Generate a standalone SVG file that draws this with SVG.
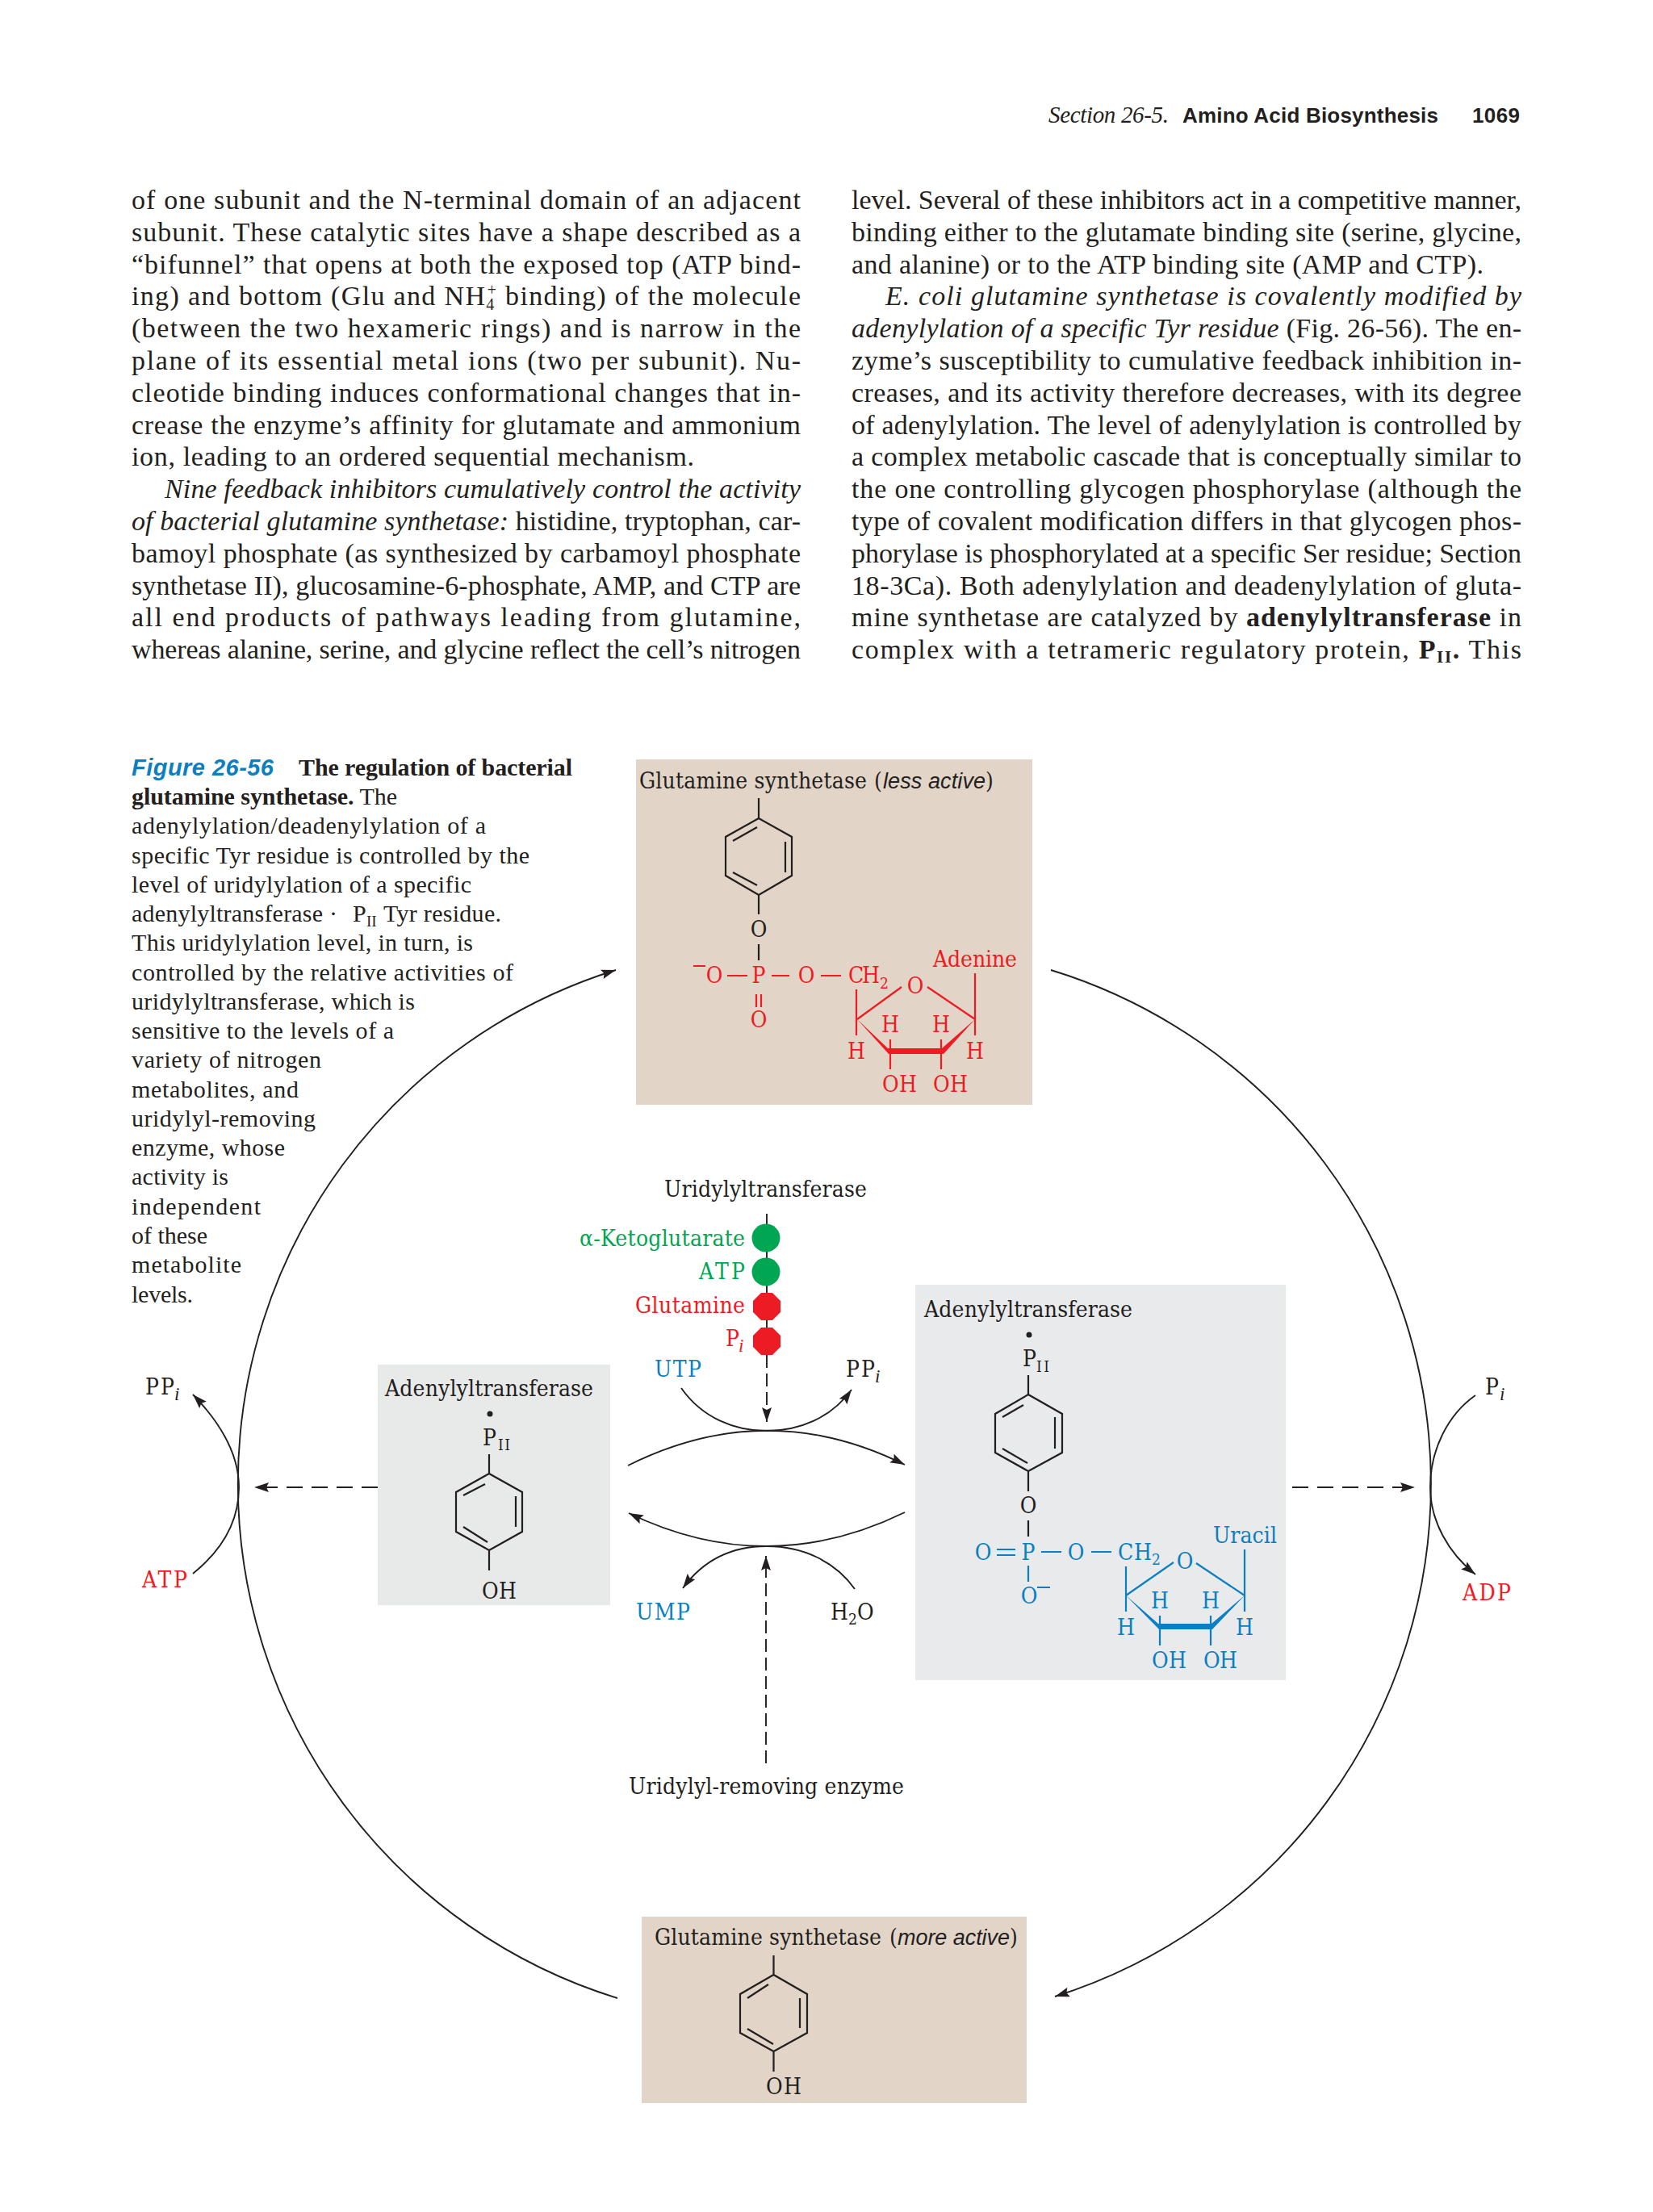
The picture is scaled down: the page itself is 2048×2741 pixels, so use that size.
<svg xmlns="http://www.w3.org/2000/svg" width="2048" height="2741" viewBox="0 0 2048 2741">
<style>
.b{font-family:"Liberation Serif",serif;font-size:34px;fill:#231f20}
.c{font-family:"Liberation Serif",serif;font-size:30px;fill:#231f20}
.d{font-family:"DejaVu Serif Condensed","DejaVu Serif",serif;font-stretch:condensed;font-size:28px;fill:#231f20}
.m{text-anchor:middle}
.e{text-anchor:end}
.it{font-family:"Liberation Sans",sans-serif;font-style:italic;font-size:27px;fill:#231f20}
.s2{font-size:19px}
.si{font-family:"Liberation Serif",serif;font-style:italic;font-size:23px;fill:#231f20}
.r{fill:#ed1c24}.u{fill:#0b7fc1}.g{fill:#00a651}
.bd{stroke:#231f20;stroke-width:2.2;fill:none}
.rl{stroke:#ed1c24;stroke-width:2.2;fill:none}
.ul{stroke:#0b7fc1;stroke-width:2.2;fill:none}
.con{stroke:#231f20;stroke-width:1.9;fill:none}
.ah{marker-end:url(#a)}
.dh{stroke-dasharray:20 11}
.dv{stroke-dasharray:16 7}
.hs{font-family:"Liberation Sans",sans-serif;font-size:26px;font-weight:bold;fill:#231f20}
</style>
<defs>
<marker id="a" markerUnits="userSpaceOnUse" markerWidth="20" markerHeight="14" refX="18" refY="6" orient="auto"><path d="M18,6 L0,0 L3,6 L0,12 Z" fill="#231f20"/></marker>
</defs>
<rect width="2048" height="2741" fill="#fff"/>

<g id="header">
<text x="1299" y="152" font-family="Liberation Serif, serif" font-style="italic" font-size="29" fill="#231f20" textLength="149">Section 26-5.</text>
<text x="1465" y="152" class="hs" textLength="317">Amino Acid Biosynthesis</text>
<text x="1824" y="152" class="hs" textLength="59">1069</text>
</g>

<g id="body-left">
<text x="163" y="259" class="b" textLength="829">of one subunit and the N-terminal domain of an adjacent</text>
<text x="163" y="299" class="b" textLength="829">subunit. These catalytic sites have a shape described as a</text>
<text x="163" y="339" class="b" textLength="829">“bifunnel” that opens at both the exposed top (ATP bind-</text>
<text x="163" y="378" class="b" textLength="829">ing) and bottom (Glu and NH<tspan dy="6" style="font-size:20px">4</tspan><tspan dx="-10" dy="-18" style="font-size:20px">+</tspan><tspan dy="12"> binding) of the molecule</tspan></text>
<text x="163" y="418" class="b" textLength="829">(between the two hexameric rings) and is narrow in the</text>
<text x="163" y="458" class="b" textLength="829">plane of its essential metal ions (two per subunit). Nu-</text>
<text x="163" y="498" class="b" textLength="829">cleotide binding induces conformational changes that in-</text>
<text x="163" y="538" class="b" textLength="829">crease the enzyme’s affinity for glutamate and ammonium</text>
<text x="163" y="577" class="b" textLength="697">ion, leading to an ordered sequential mechanism.</text>
<text x="204" y="617" class="b" font-style="italic" textLength="788">Nine feedback inhibitors cumulatively control the activity</text>
<text x="163" y="657" class="b" textLength="829"><tspan font-style="italic">of bacterial glutamine synthetase:</tspan> histidine, tryptophan, car-</text>
<text x="163" y="697" class="b" textLength="829">bamoyl phosphate (as synthesized by carbamoyl phosphate</text>
<text x="163" y="737" class="b" textLength="829">synthetase II), glucosamine-6-phosphate, AMP, and CTP are</text>
<text x="163" y="776" class="b" textLength="829">all end products of pathways leading from glutamine,</text>
<text x="163" y="816" class="b" textLength="829">whereas alanine, serine, and glycine reflect the cell’s nitrogen</text>
</g>

<g id="body-right">
<text x="1055" y="259" class="b" textLength="830">level. Several of these inhibitors act in a competitive manner,</text>
<text x="1055" y="299" class="b" textLength="830">binding either to the glutamate binding site (serine, glycine,</text>
<text x="1055" y="339" class="b" textLength="783">and alanine) or to the ATP binding site (AMP and CTP).</text>
<text x="1097" y="378" class="b" font-style="italic" textLength="788">E. coli glutamine synthetase is covalently modified by</text>
<text x="1055" y="418" class="b" textLength="830"><tspan font-style="italic">adenylylation of a specific Tyr residue</tspan> (Fig. 26-56). The en-</text>
<text x="1055" y="458" class="b" textLength="830">zyme’s susceptibility to cumulative feedback inhibition in-</text>
<text x="1055" y="498" class="b" textLength="830">creases, and its activity therefore decreases, with its degree</text>
<text x="1055" y="538" class="b" textLength="830">of adenylylation. The level of adenylylation is controlled by</text>
<text x="1055" y="577" class="b" textLength="830">a complex metabolic cascade that is conceptually similar to</text>
<text x="1055" y="617" class="b" textLength="830">the one controlling glycogen phosphorylase (although the</text>
<text x="1055" y="657" class="b" textLength="830">type of covalent modification differs in that glycogen phos-</text>
<text x="1055" y="697" class="b" textLength="830">phorylase is phosphorylated at a specific Ser residue; Section</text>
<text x="1055" y="737" class="b" textLength="830">18-3Ca). Both adenylylation and deadenylylation of gluta-</text>
<text x="1055" y="776" class="b" textLength="830">mine synthetase are catalyzed by <tspan font-weight="bold">adenylyltransferase</tspan> in</text>
<text x="1055" y="816" class="b" textLength="830">complex with a tetrameric regulatory protein, <tspan font-weight="bold">P<tspan dy="5" style="font-size:21px">II</tspan><tspan dy="-5">.</tspan></tspan> This</text>
</g>

<g id="caption">
<text x="163" y="961" style="font-family:'Liberation Sans',sans-serif;font-style:italic;font-weight:bold;font-size:29px;fill:#0b7fc1" textLength="176">Figure 26-56</text>
<text x="370" y="961" class="c" font-weight="bold" textLength="339">The regulation of bacterial</text>
<text x="163" y="997" class="c" textLength="329"><tspan font-weight="bold">glutamine synthetase.</tspan> The</text>
<text x="163" y="1033" class="c" textLength="439">adenylylation/deadenylylation of a</text>
<text x="163" y="1070" class="c" textLength="493">specific Tyr residue is controlled by the</text>
<text x="163" y="1106" class="c" textLength="421">level of uridylylation of a specific</text>
<text x="163" y="1142" class="c" textLength="255">adenylyltransferase ·</text>
<text x="437" y="1142" class="c">P</text>
<text x="454" y="1148" class="c" style="font-size:19px">II</text>
<text x="475" y="1142" class="c" textLength="146">Tyr residue.</text>
<text x="163" y="1178" class="c" textLength="423">This uridylylation level, in turn, is</text>
<text x="163" y="1215" class="c" textLength="473">controlled by the relative activities of</text>
<text x="163" y="1251" class="c" textLength="351">uridylyltransferase, which is</text>
<text x="163" y="1287" class="c" textLength="325">sensitive to the levels of a</text>
<text x="163" y="1323" class="c" textLength="235">variety of nitrogen</text>
<text x="163" y="1360" class="c" textLength="207">metabolites, and</text>
<text x="163" y="1396" class="c" textLength="228">uridylyl-removing</text>
<text x="163" y="1432" class="c" textLength="190">enzyme, whose</text>
<text x="163" y="1468" class="c" textLength="120">activity is</text>
<text x="163" y="1505" class="c" textLength="160">independent</text>
<text x="163" y="1541" class="c" textLength="94">of these</text>
<text x="163" y="1577" class="c" textLength="136">metabolite</text>
<text x="163" y="1614" class="c" textLength="76">levels.</text>
</g>

<g id="connectors">
<path class="con ah" d="M765,2476 A667,667 0 0 1 763,1202"/>
<path class="con ah" d="M1302,1202 A666,666 0 0 1 1307,2474"/>
<path class="con ah" d="M778,1816 Q950,1730 1121,1815"/>
<path class="con ah" d="M1121,1874 Q950,1957.5 779,1875"/>
<path class="con ah" d="M844,1720 C870,1757 910,1773 950,1773 C990,1773 1030,1757 1055,1722"/>
<path class="con ah" d="M1059,1969 C1035,1935 995,1916 950,1916 C905,1916 870,1935 846,1968"/>
<path class="con ah" d="M239,1950 C270,1925 296,1890 296,1843 C296,1800 270,1760 239,1728"/>
<path class="con ah" d="M1828,1729 C1795,1752 1772,1795 1772,1843 C1772,1885 1795,1925 1828,1951"/>
<path class="con ah dh" d="M468,1843 L315,1843"/>
<path class="con ah dh" d="M1601,1843 L1753,1843"/>
<path class="con" d="M950,1504 L950,1679"/>
<path class="con ah dv" d="M950,1679 L950,1762"/>
<path class="con ah dv" d="M949,2185 L949,1928"/>
</g>

<g id="labels-reactants">
<text x="811" y="1706" class="d u" textLength="58">UTP</text>
<text x="1048" y="1706" class="d" textLength="36">PP</text>
<text x="1084" y="1713" class="si">i</text>
<text x="180" y="1728" class="d" textLength="36">PP</text>
<text x="216" y="1735" class="si">i</text>
<text x="176" y="1967" class="d r" textLength="56">ATP</text>
<text x="1840" y="1728" class="d" textLength="17">P</text>
<text x="1858" y="1735" class="si">i</text>
<text x="1812" y="1983" class="d r" textLength="60">ADP</text>
<text x="788" y="2007" class="d u" textLength="67">UMP</text>
<text x="1029" y="2007" class="d">H</text>
<text x="1051" y="2013" class="d s2">2</text>
<text x="1062" y="2007" class="d">O</text>
</g>

<g id="uridylyltransferase">
<text x="823" y="1483" class="d" textLength="251">Uridylyltransferase</text>
<text x="923" y="1544" class="d g e" textLength="205">α-Ketoglutarate</text>
<text x="923" y="1585" class="d g e" textLength="57">ATP</text>
<text x="923" y="1627" class="d r e" textLength="136">Glutamine</text>
<text x="899" y="1668" class="d r" textLength="16">P</text>
<text x="915" y="1675" class="si r">i</text>
<circle cx="949" cy="1534" r="17.5" class="g"/>
<circle cx="949" cy="1576" r="17.5" class="g"/>
<polygon class="r" points="943,1602 957,1602 967,1612 967,1626 957,1636 943,1636 933,1626 933,1612"/>
<polygon class="r" points="943,1645 957,1645 967,1655 967,1669 957,1679 943,1679 933,1669 933,1655"/>
</g>

<g id="uridylyl-removing-enzyme">
<text x="779" y="2223" class="d" textLength="341">Uridylyl-removing enzyme</text>
</g>

<g id="gs-less-active">
<rect x="788" y="941" width="491" height="428" fill="#e2d4c7"/>
<text x="792" y="977" class="d" textLength="282">Glutamine synthetase</text>
<text x="1083" y="977" class="d">(</text>
<text x="1094" y="977" class="it" textLength="127">less active</text>
<text x="1221" y="977" class="d">)</text>
<path class="bd" d="M940,989 V1014 L981,1037 V1085 L940,1109 L899,1085 V1037 L940,1014 M908,1042 L938,1025 M973,1043 V1081 M908,1081 L938,1097 M940,1109 V1133 M940,1170 V1190"/>
<text x="940" y="1161" class="d m">O</text>
<text x="885" y="1218" class="d r m">O</text>
<text x="940" y="1218" class="d r m">P</text>
<text x="999" y="1218" class="d r m">O</text>
<text x="1051" y="1218" class="d r" textLength="39">CH</text>
<text x="1090" y="1225" class="d r s2">2</text>
<text x="940" y="1273" class="d r m">O</text>
<text x="1134" y="1231" class="d r m">O</text>
<text x="1156" y="1198" class="d r" textLength="104">Adenine</text>
<text x="1061" y="1312" class="d r m">H</text>
<text x="1208" y="1312" class="d r m">H</text>
<text x="1103" y="1279" class="d r m">H</text>
<text x="1166" y="1279" class="d r m">H</text>
<text x="1093" y="1353" class="d r" textLength="43">OH</text>
<text x="1156" y="1353" class="d r" textLength="43">OH</text>
<path class="rl" d="M859,1197 H874 M901,1209 H926 M956,1209 H978 M1017,1209 H1042 M937,1232 V1248 M943,1232 V1248 M1061,1226 V1283 M1208,1206 V1283 M1062,1263 L1117,1223 M1149,1223 L1208,1263 M1103,1288 V1325 M1166,1288 V1325"/>
<polygon class="r" points="1062,1263 1100,1299 1167,1299 1208,1263 1169,1306 1101,1306"/>
</g>

<g id="at-pii-oh">
<rect x="468" y="1691" width="288" height="298" fill="#e8eaea"/>
<text x="477" y="1730" class="d" textLength="258">Adenylyltransferase</text>
<circle cx="607" cy="1752" r="3.5" fill="#231f20"/>
<text x="598" y="1791" class="d">P</text>
<text x="617" y="1797" class="d s2" textLength="15">II</text>
<path class="bd" d="M606,1802 V1826 L647,1849 V1898 L606,1921 L565,1898 V1849 L606,1826 M574,1853 L601,1839 M639,1854 V1892 M574,1892 L604,1911 M606,1921 V1946"/>
<text x="597" y="1981" class="d" textLength="43">OH</text>
</g>

<g id="at-pii-ump">
<rect x="1134" y="1592" width="459" height="490" fill="#e8eaec"/>
<text x="1145" y="1632" class="d" textLength="258">Adenylyltransferase</text>
<circle cx="1275" cy="1654" r="3.5" fill="#231f20"/>
<text x="1267" y="1693" class="d">P</text>
<text x="1284" y="1700" class="d s2" textLength="16">II</text>
<path class="bd" d="M1274,1704 V1728 L1316,1752 V1800 L1274,1823 L1233,1800 V1752 L1274,1728 M1242,1756 L1268,1741 M1307,1756 V1795 M1242,1795 L1273,1813 M1274,1823 V1848 M1274,1884 V1904"/>
<text x="1274" y="1875" class="d m">O</text>
<text x="1218" y="1933" class="d u m">O</text>
<text x="1274" y="1933" class="d u m">P</text>
<text x="1333" y="1933" class="d u m">O</text>
<text x="1385" y="1933" class="d u" textLength="42">CH</text>
<text x="1427" y="1939" class="d u s2">2</text>
<text x="1275" y="1987" class="d u m">O</text>
<text x="1468" y="1944" class="d u m">O</text>
<text x="1503" y="1912" class="d u" textLength="79">Uracil</text>
<text x="1395" y="2026" class="d u m">H</text>
<text x="1542" y="2026" class="d u m">H</text>
<text x="1437" y="1993" class="d u m">H</text>
<text x="1500" y="1993" class="d u m">H</text>
<text x="1427" y="2067" class="d u" textLength="43">OH</text>
<text x="1491" y="2067" class="d u" textLength="42">OH</text>
<path class="ul" d="M1235,1920 H1258 M1235,1927 H1258 M1290,1923 H1315 M1352,1923 H1377 M1274,1940 V1960 M1285,1967 H1301 M1395,1941 V1997 M1542,1920 V1997 M1395,1977 L1454,1936 M1482,1937 L1542,1977 M1437,2002 V2039 M1500,2002 V2039"/>
<polygon class="u" points="1395,1977 1435,2012 1501,2012 1542,1977 1502,2019 1436,2019"/>
</g>

<g id="gs-more-active">
<rect x="795" y="2375" width="477" height="231" fill="#e2d4c7"/>
<text x="811" y="2410" class="d" textLength="281">Glutamine synthetase</text>
<text x="1102" y="2410" class="d">(</text>
<text x="1112" y="2410" class="it" textLength="139">more active</text>
<text x="1251" y="2410" class="d">)</text>
<path class="bd" d="M958.5,2423 V2447 L1000,2471 V2519 L958.5,2542 L917,2519 V2471 L958.5,2447 M926,2476 L952,2459 M991,2476 V2513 M926,2514 L958,2533 M958.5,2542 V2567"/>
<text x="949" y="2595" class="d" textLength="44">OH</text>
</g>
</svg>
